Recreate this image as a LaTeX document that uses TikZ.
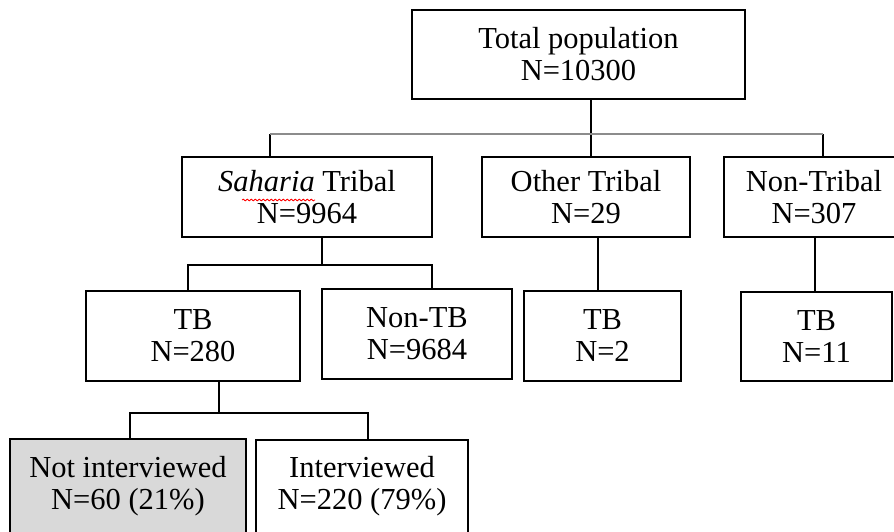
\documentclass[tikz,border=0pt]{standalone}
\usepackage{fontspec}
\setmainfont{Liberation Serif}
\usetikzlibrary{decorations.pathmorphing}
\definecolor{notgray}{RGB}{217,217,217}
\definecolor{bargray}{RGB}{140,140,140}
\tikzset{
  box/.style={draw,line width=1.8pt,inner sep=0pt,align=center,font=\fontsize{30.5pt}{32pt}\selectfont},
  link/.style={line width=1.8pt},
  bar/.style={bargray,line width=2.6pt},
}
\begin{document}
\begin{tikzpicture}[x=1pt,y=-1pt]
   \clip (0,0) rectangle (894,531);
   \node [box,minimum width=333pt,minimum height=89pt] (total) at (578.5,54.5) {Total population\\N=10300};
   \node [box,minimum width=250pt,minimum height=80pt] (saharia) at (307,197) {\textit{Saharia} Tribal\\N=9964};
   \node [box,minimum width=208pt,minimum height=80pt] (other) at (586,197) {Other Tribal\\N=29};
   \node [box,minimum width=180pt,minimum height=80pt] (nontribal) at (814,197) {Non-Tribal\\N=307};
   \node [box,minimum width=214pt,minimum height=90pt] (tb1) at (193,336) {TB\\N=280};
   \node [box,minimum width=190pt,minimum height=90pt] (nontb) at (417,334) {Non-TB\\N=9684};
   \node [box,minimum width=157pt,minimum height=90pt] (tb2) at (602.5,336) {TB\\N=2};
   \node [box,minimum width=151pt,minimum height=89pt] (tb3) at (816.5,336.5) {TB\\N=11};
   \node [box,fill=notgray,minimum width=236.5pt,minimum height=93.5pt] (notint) at (128,486) {Not interviewed\\N=60 (21\%)};
   \node [box,minimum width=212pt,minimum height=93pt] (int) at (362,486.5) {Interviewed\\N=220 (79\%)};
   \coordinate (topbar) at (578.5,134);
   \coordinate (midbar) at (322,265);
   \coordinate (lowbar) at (219,413);
   \draw [link] ([xshift=12.5pt]total.south) -- ([xshift=12.5pt]total.south |- other.north);
   \draw [link] ([xshift=-37pt]saharia.north) -- ([xshift=-37pt]saharia.north |- topbar);
   \draw [link] ([xshift=9pt]nontribal.north) -- ([xshift=9pt]nontribal.north |- topbar);
   \draw [bar] ([xshift=-37pt]saharia.north |- topbar) -- ([xshift=9pt]nontribal.north |- topbar);
   \draw [link] ([xshift=15pt]saharia.south) -- (midbar);
   \draw [link] ([xshift=-5pt]tb1.north) |- (midbar) -| ([xshift=15pt]nontb.north);
   \draw [link] ([xshift=12pt]other.south) -- ([xshift=12pt]other.south |- tb2.north);
   \draw [link] ([xshift=1pt]nontribal.south) -- ([xshift=1pt]nontribal.south |- tb3.north);
   \draw [link] ([xshift=26pt]tb1.south) -- (lowbar);
   \draw [link] ([xshift=2pt]notint.north) |- (lowbar) -| ([xshift=6pt]int.north);
   \draw [red,line width=0.8pt,decorate,decoration={snake,amplitude=0.9pt,segment length=4pt}] ([xshift=-65pt,yshift=-3pt]saharia.center) -- ([xshift=8pt,yshift=-3pt]saharia.center);
  \end{tikzpicture}
\end{document}
